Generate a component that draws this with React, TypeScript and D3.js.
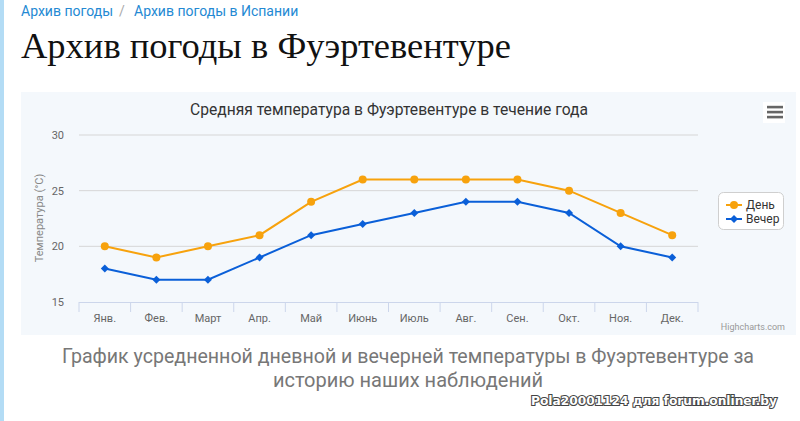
import React from "react";
import * as d3 from "d3";

const months = ["Янв.", "Фев.", "Март", "Апр.", "Май", "Июнь", "Июль", "Авг.", "Сен.", "Окт.", "Ноя.", "Дек."];
const dayTemps = [20, 19, 20, 21, 24, 26, 26, 26, 26, 25, 23, 21];
const eveningTemps = [18, 17, 17, 19, 21, 22, 23, 24, 24, 23, 20, 19];
const yTicks = [15, 20, 25, 30];
const seriesNames = ["День", "Вечер"];

const DAY = "#f7a20d";
const EVE = "#0a5fd8";

export default function App() {
  const x = d3.scaleBand<string>().domain(months).range([79, 698]);
  const y = d3.scaleLinear().domain([15, 30]).range([302, 135]);
  const cx = (m: string) => (x(m) as number) + x.bandwidth() / 2;
  const line = d3
    .line<number>()
    .x((_, i) => cx(months[i]))
    .y((v) => y(v));
  const diamond = (px: number, py: number, s: number) =>
    `M${px},${py - s}L${px + s},${py}L${px},${py + s}L${px - s},${py}Z`;
  const boundaries = months.map((m) => x(m) as number).concat([698]);
  const font = "Roboto, 'Noto Sans', sans-serif";

  return (
    <svg
      width={800}
      height={421}
      style={{ position: "fixed", left: 0, top: 0, background: "#fff" }}
      fontFamily={font}
    >
      <rect x={0} y={0} width={4} height={421} fill="#b3dcf5" />
      <text x={21} y={16} fontSize={14} fill="#2489d3">Архив погоды</text>
      <text x={119} y={16} fontSize={14} fill="#aaa">/</text>
      <text x={134} y={16} fontSize={14} fill="#2489d3">Архив погоды в Испании</text>
      <text
        x={21}
        y={58}
        fontSize={36}
        fill="#111"
        fontFamily="'Liberation Serif', 'DejaVu Serif', serif"
        textLength={490}
        lengthAdjust="spacingAndGlyphs"
      >
        Архив погоды в Фуэртевентуре
      </text>

      <rect x={21} y={92} width={775} height={243} fill="#f4f8fc" />
      <text x={389} y={115} fontSize={16} fill="#333" textAnchor="middle" textLength={398} lengthAdjust="spacingAndGlyphs">
        Средняя температура в Фуэртевентуре в течение года
      </text>
      <rect x={763} y={102} width={22} height={21} fill="#ffffff" />
      {[107, 112, 117].map((ly) => (
        <rect key={ly} x={767} y={ly - 1.2} width={16} height={2.6} fill="#666" />
      ))}

      {yTicks.filter((t) => t !== 15).map((t) => (
        <line key={t} x1={79} x2={698} y1={y(t)} y2={y(t)} stroke="#d6d6d6" strokeWidth={1} />
      ))}
      <line x1={79} x2={698} y1={302.5} y2={302.5} stroke="#ccd6eb" />
      {boundaries.map((b, i) => (
        <line key={i} x1={b} x2={b} y1={302} y2={312} stroke="#ccd6eb" />
      ))}
      {yTicks.map((t) => (
        <text key={t} x={64} y={y(t) + 4} fontSize={11} fill="#666" textAnchor="end">
          {t}
        </text>
      ))}
      <text
        transform={`translate(43,218) rotate(-90)`}
        fontSize={11}
        fill="#888"
        textAnchor="middle"
      >
        Температура (°C)
      </text>
      {months.map((m) => (
        <text key={m} x={cx(m)} y={322} fontSize={11} fill="#666" textAnchor="middle">
          {m}
        </text>
      ))}

      <path d={line(eveningTemps) || ""} fill="none" stroke={EVE} strokeWidth={2} />
      {eveningTemps.map((v, i) => (
        <path key={i} d={diamond(cx(months[i]), y(v), 4)} fill={EVE} />
      ))}
      <path d={line(dayTemps) || ""} fill="none" stroke={DAY} strokeWidth={2} />
      {dayTemps.map((v, i) => (
        <circle key={i} cx={cx(months[i])} cy={y(v)} r={4} fill={DAY} />
      ))}

      <rect x={718.5} y={192.5} width={65} height={37} rx={5} fill="#fff" stroke="#cfcfcf" />
      <line x1={726} x2={742} y1={205} y2={205} stroke={DAY} strokeWidth={2} />
      <circle cx={734} cy={205} r={4} fill={DAY} />
      <text x={746} y={209} fontSize={12} fill="#333">{seriesNames[0]}</text>
      <line x1={726} x2={742} y1={219} y2={219} stroke={EVE} strokeWidth={2} />
      <path d={diamond(734, 219, 4)} fill={EVE} />
      <text x={746} y={223} fontSize={12} fill="#333">{seriesNames[1]}</text>

      <text x={785} y={330} fontSize={9} fill="#999" textAnchor="end">Highcharts.com</text>

      <text x={408} y={363} fontSize={20} fill="#777" textAnchor="middle" fontFamily="'Roboto', sans-serif" textLength={692} lengthAdjust="spacingAndGlyphs">
        График усредненной дневной и вечерней температуры в Фуэртевентуре за
      </text>
      <text x={408} y={387} fontSize={20} fill="#777" textAnchor="middle" fontFamily="'Roboto', sans-serif">
        историю наших наблюдений
      </text>

      <text
        x={777}
        y={405}
        fontSize={13}
        fontWeight="bold"
        textAnchor="end"
        fill="#fff"
        stroke="#444"
        strokeWidth={2}
        paintOrder="stroke"
        fontFamily="'Liberation Sans Narrow', 'DejaVu Sans Condensed', Roboto, sans-serif"
        textLength={246}
        lengthAdjust="spacingAndGlyphs"
      >
        Pola20001124 для forum.onliner.by
      </text>
    </svg>
  );
}
